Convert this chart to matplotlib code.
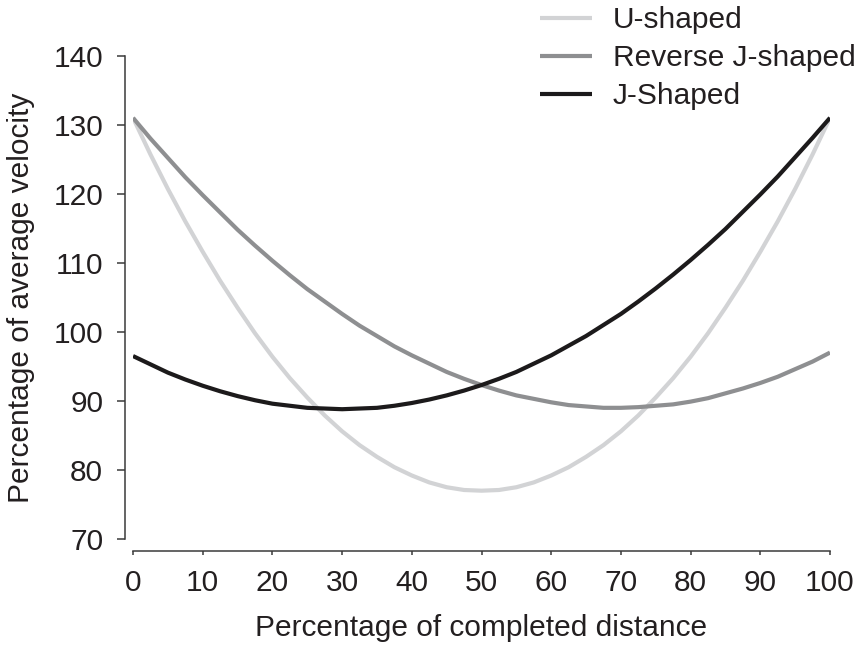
import matplotlib
matplotlib.use("Agg")
import matplotlib.pyplot as plt

plt.rcParams['font.family'] = ['Liberation Sans', 'DejaVu Sans']

# percentage of completed distance, every 2.5 %
distance = [i * 2.5 for i in range(41)]

# percentage of average velocity for each pacing profile
u_shaped = [131.0, 125.7, 120.7, 116.0, 111.6, 107.4, 103.5, 99.8, 96.4, 93.3,
            90.5, 87.9, 85.6, 83.6, 81.9, 80.4, 79.2, 78.2, 77.5, 77.1,
            77.0,
            77.1, 77.5, 78.2, 79.2, 80.4, 81.9, 83.6, 85.6, 87.9, 90.5,
            93.3, 96.4, 99.8, 103.5, 107.4, 111.6, 116.0, 120.7, 125.7, 131.0]
reverse_j = [131.0, 128.0, 125.2, 122.4, 119.8, 117.3, 114.8, 112.5, 110.3, 108.2,
             106.2, 104.4, 102.6, 100.9, 99.4, 97.9, 96.6, 95.4, 94.2, 93.2,
             92.3,
             91.5, 90.8, 90.3, 89.8, 89.4, 89.2, 89.0, 89.0, 89.1, 89.3,
             89.5, 89.9, 90.4, 91.1, 91.8, 92.6, 93.5, 94.6, 95.7, 97.0]
j_shaped = [96.5, 95.3, 94.1, 93.1, 92.2, 91.4, 90.7, 90.1, 89.6, 89.3,
            89.0, 88.9, 88.8, 88.9, 89.0, 89.3, 89.7, 90.2, 90.8, 91.5,
            92.3,
            93.2, 94.2, 95.4, 96.6, 98.0, 99.4, 101.0, 102.6, 104.4, 106.3,
            108.3, 110.4, 112.6, 114.9, 117.4, 119.9, 122.5, 125.3, 128.1, 131.0]

labels = ['U-shaped', 'Reverse J-shaped', 'J-Shaped']
colors = ['#d2d3d5', '#8e8f91', '#1c1a1b']

x_ticks = list(range(0, 101, 10))
y_ticks = list(range(70, 141, 10))

fig = plt.figure(figsize=(8.61, 6.46), dpi=100)
ax = fig.add_axes([0.1545, 0.1656, 0.8095, 0.7482])

for ys, lab, col in zip([u_shaped, reverse_j, j_shaped], labels, colors):
    ax.plot(distance, ys, color=col, lw=3.0, label=lab, solid_capstyle='butt')

ax.set_xlim(0, 100)
ax.set_ylim(70, 140)
ax.set_xticks(x_ticks)
ax.set_yticks(y_ticks)

for side in ['top', 'right']:
    ax.spines[side].set_visible(False)
ax.spines['left'].set_position(('outward', 6))
ax.spines['bottom'].set_position(('outward', 8.5))
for side in ['left', 'bottom']:
    ax.spines[side].set_color('#3a3a3a')
    ax.spines[side].set_linewidth(1.1)

ax.tick_params(axis='y', length=5.5, width=1.1, color='#3a3a3a', pad=10,
               labelsize=21.5, labelcolor='#231f20')
ax.tick_params(axis='x', length=3, width=1.1, color='#3a3a3a', pad=10,
               labelsize=21.5, labelcolor='#231f20')

ax.set_xlabel('Percentage of completed distance', fontsize=21.5, color='#231f20', labelpad=12)
ax.set_ylabel('Percentage of average velocity', fontsize=21.5, color='#231f20', labelpad=13)

fig.legend(loc='upper left', bbox_to_anchor=(540 / 861, 1 - 6 / 646),
           frameon=False, fontsize=21.5, handlelength=1.75, handletextpad=0.68,
           labelspacing=0.34, borderpad=0, borderaxespad=0, labelcolor='#231f20')

fig.savefig('out.png', dpi=100)
